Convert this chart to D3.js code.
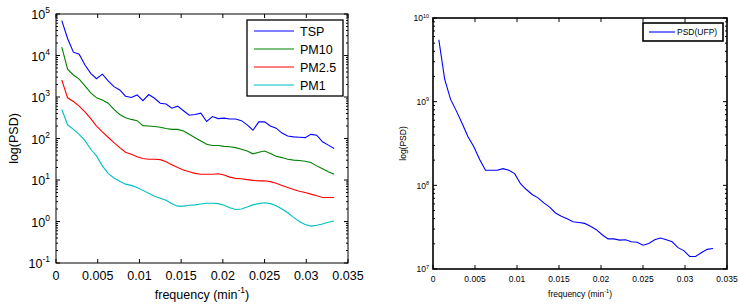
<!DOCTYPE html>
<html>
<head>
<meta charset="utf-8">
<script src="https://cdn.jsdelivr.net/npm/d3@7"></script>
<style>
  body { margin: 0; background: #fff; }
  svg { font-family: "Liberation Sans", Arial, sans-serif; }
</style>
</head>
<body>
<svg id="chart" width="739" height="304"></svg>
<script>
// 1-day record sampled every minute -> harmonics k/1440 min^-1, k = 1..48
const freqs = d3.range(1, 49).map(k => k / 1440);

// log10(PSD)
const tspLog = [4.84, 4.41, 4.08, 4.03, 3.77, 3.57, 3.44, 3.55, 3.39, 3.25, 3.17, 3.02,
    2.99, 3.05, 2.91, 3.06, 2.97, 2.85, 2.83, 2.73, 2.78, 2.67, 2.56, 2.58,
    2.61, 2.41, 2.53, 2.48, 2.49, 2.47, 2.47, 2.43, 2.33, 2.20, 2.40, 2.40,
    2.30, 2.25, 2.13, 2.06, 2.04, 2.03, 2.02, 2.10, 2.08, 1.92, 1.84, 1.76];
const pm10Log = [4.20, 3.67, 3.53, 3.43, 3.27, 3.10, 2.98, 2.93, 2.85, 2.70, 2.58, 2.50,
    2.46, 2.43, 2.31, 2.30, 2.29, 2.27, 2.24, 2.22, 2.22, 2.18, 2.10, 2.02,
    1.94, 1.86, 1.83, 1.83, 1.81, 1.80, 1.78, 1.74, 1.70, 1.63, 1.67, 1.70,
    1.64, 1.57, 1.54, 1.50, 1.48, 1.47, 1.45, 1.42, 1.34, 1.27, 1.20, 1.14];
const pm25Log = [3.41, 2.98, 2.89, 2.78, 2.64, 2.48, 2.30, 2.16, 2.03, 1.90, 1.78, 1.67,
    1.62, 1.56, 1.52, 1.50, 1.50, 1.49, 1.44, 1.37, 1.30, 1.24, 1.20, 1.16,
    1.14, 1.14, 1.14, 1.15, 1.12, 1.07, 1.04, 1.03, 1.01, 0.99, 0.98, 0.98,
    0.96, 0.92, 0.87, 0.82, 0.77, 0.73, 0.70, 0.66, 0.62, 0.58, 0.58, 0.58];
const pm1Log = [2.70, 2.33, 2.22, 2.10, 1.95, 1.74, 1.58, 1.34, 1.16, 1.05, 0.97, 0.90,
    0.87, 0.82, 0.75, 0.68, 0.61, 0.56, 0.51, 0.43, 0.37, 0.37, 0.39, 0.40,
    0.42, 0.44, 0.44, 0.43, 0.39, 0.33, 0.29, 0.30, 0.35, 0.40, 0.43, 0.45,
    0.43, 0.38, 0.30, 0.21, 0.10, 0.00, -0.07, -0.11, -0.09, -0.06, -0.02, 0.01];

// log10(PSD) of ultrafine particles, right panel
const ufpLog = [9.74, 9.27, 9.03, 8.89, 8.74, 8.58, 8.46, 8.31, 8.18, 8.18, 8.18, 8.20,
    8.18, 8.14, 8.02, 7.95, 7.89, 7.85, 7.79, 7.74, 7.67, 7.63, 7.60, 7.565,
    7.555, 7.545, 7.51, 7.47, 7.41, 7.36, 7.36, 7.345, 7.35, 7.325, 7.32, 7.285,
    7.305, 7.35, 7.37, 7.35, 7.325, 7.255, 7.22, 7.15, 7.15, 7.195, 7.235, 7.245];

const xTicks = [0, 0.005, 0.01, 0.015, 0.02, 0.025, 0.03, 0.035];

const leftSeries = [
    { name: "TSP", values: tspLog, color: "#0000ff" },
    { name: "PM10", values: pm10Log, color: "#008000" },
    { name: "PM2.5", values: pm25Log, color: "#ff0000" },
    { name: "PM1", values: pm1Log, color: "#00bfbf" }
];
const rightSeries = [
    { name: "PSD(UFP)", values: ufpLog, color: "#0000ff" }
];

const svg = d3.select("#chart");

function drawPanel(p) {
    const g = svg.append("g");
    const x = d3.scaleLinear().domain([0, 0.035]).range([p.left, p.right]);
    const y = d3.scaleLog().domain(p.yDomain).range([p.bottom, p.top]);

    // lines
    const line = d3.line()
        .x((d, i) => x(freqs[i]))
        .y(d => y(Math.pow(10, d)));
    p.series.forEach(s => {
        g.append("path")
            .attr("d", line(s.values))
            .attr("fill", "none")
            .attr("stroke", s.color)
            .attr("stroke-width", 1.1);
    });

    // x ticks, inward on bottom and top
    xTicks.forEach(t => {
        g.append("line").attr("x1", x(t)).attr("x2", x(t))
            .attr("y1", p.bottom).attr("y2", p.bottom - 4).attr("stroke", "#000");
        g.append("line").attr("x1", x(t)).attr("x2", x(t))
            .attr("y1", p.top).attr("y2", p.top + 4).attr("stroke", "#000");
        g.append("text")
            .attr("x", x(t))
            .attr("y", p.bottom + p.xLabelDy)
            .attr("text-anchor", "middle")
            .style("font-size", p.fontSize + "px")
            .text(t === 0 ? "0" : String(t));
    });

    // y ticks: decades + minor log ticks, inward on left and right
    const [lo, hi] = p.yDomain.map(v => Math.round(Math.log10(v)));
    for (let e = lo; e <= hi; e++) {
        const yy = y(Math.pow(10, e));
        g.append("line").attr("x1", p.left).attr("x2", p.left + 4)
            .attr("y1", yy).attr("y2", yy).attr("stroke", "#000");
        g.append("line").attr("x1", p.right).attr("x2", p.right - 4)
            .attr("y1", yy).attr("y2", yy).attr("stroke", "#000");
        const lab = g.append("text")
            .attr("x", p.left - p.yLabelDx)
            .attr("y", yy + p.fontSize * 0.4)
            .attr("text-anchor", "end")
            .style("font-size", p.fontSize + "px")
            .text("10");
        lab.append("tspan")
            .attr("dy", -p.fontSize * 0.45)
            .style("font-size", p.supSize + "px")
            .text(e);
        if (e < hi) {
            for (let m = 2; m <= 9; m++) {
                const ym = y(m * Math.pow(10, e));
                g.append("line").attr("x1", p.left).attr("x2", p.left + 2)
                    .attr("y1", ym).attr("y2", ym).attr("stroke", "#000");
                g.append("line").attr("x1", p.right).attr("x2", p.right - 2)
                    .attr("y1", ym).attr("y2", ym).attr("stroke", "#000");
            }
        }
    }

    // box
    g.append("rect")
        .attr("x", p.left).attr("y", p.top)
        .attr("width", p.right - p.left).attr("height", p.bottom - p.top)
        .attr("fill", "none").attr("stroke", "#000").attr("stroke-width", p.boxWidth);

    // axis titles
    const xt = g.append("text")
        .attr("x", (p.left + p.right) / 2)
        .attr("y", p.xTitleY)
        .attr("text-anchor", "middle")
        .style("font-size", p.fontSize + "px")
        .text("frequency (min");
    xt.append("tspan").attr("dy", -p.fontSize * 0.45).style("font-size", p.supSize + "px").text("-1");
    xt.append("tspan").attr("dy", p.fontSize * 0.45).text(")");

    g.append("text")
        .attr("transform", `translate(${p.yTitleX},${(p.top + p.bottom) / 2}) rotate(-90)`)
        .attr("text-anchor", "middle")
        .style("font-size", p.fontSize + "px")
        .text("log(PSD)");

    // legend
    const L = p.legend;
    g.append("rect")
        .attr("x", L.x).attr("y", L.y).attr("width", L.w).attr("height", L.h)
        .attr("fill", "#fff").attr("stroke", "#000").attr("stroke-width", L.border);
    p.series.forEach((s, i) => {
        const yy = L.y + L.first + i * L.step;
        g.append("line")
            .attr("x1", L.x + L.lineX0).attr("x2", L.x + L.lineX1)
            .attr("y1", yy).attr("y2", yy)
            .attr("stroke", s.color).attr("stroke-width", 1.1);
        g.append("text")
            .attr("x", L.x + L.textX)
            .attr("y", yy + L.fontSize * 0.36)
            .style("font-size", L.fontSize + "px")
            .text(s.name);
    });
}

drawPanel({
    left: 56, right: 348, top: 14, bottom: 263,
    yDomain: [1e-1, 1e5],
    series: leftSeries,
    fontSize: 12.5, supSize: 8.5,
    xLabelDy: 17, yLabelDx: 6,
    xTitleY: 299, yTitleX: 18,
    boxWidth: 1,
    legend: { x: 247, y: 20, w: 96, h: 76, border: 1.3, first: 11, step: 18,
              lineX0: 7, lineX1: 47, textX: 53, fontSize: 12.5 }
});

drawPanel({
    left: 433, right: 727, top: 18, bottom: 269,
    yDomain: [1e7, 1e10],
    series: rightSeries,
    fontSize: 8.5, supSize: 5.5,
    xLabelDy: 13, yLabelDx: 4,
    xTitleY: 297, yTitleX: 406,
    boxWidth: 1.6,
    legend: { x: 643, y: 23, w: 80, h: 18, border: 1.6, first: 9, step: 14,
              lineX0: 6, lineX1: 32, textX: 34, fontSize: 8.5 }
});
</script>
</body>
</html>
